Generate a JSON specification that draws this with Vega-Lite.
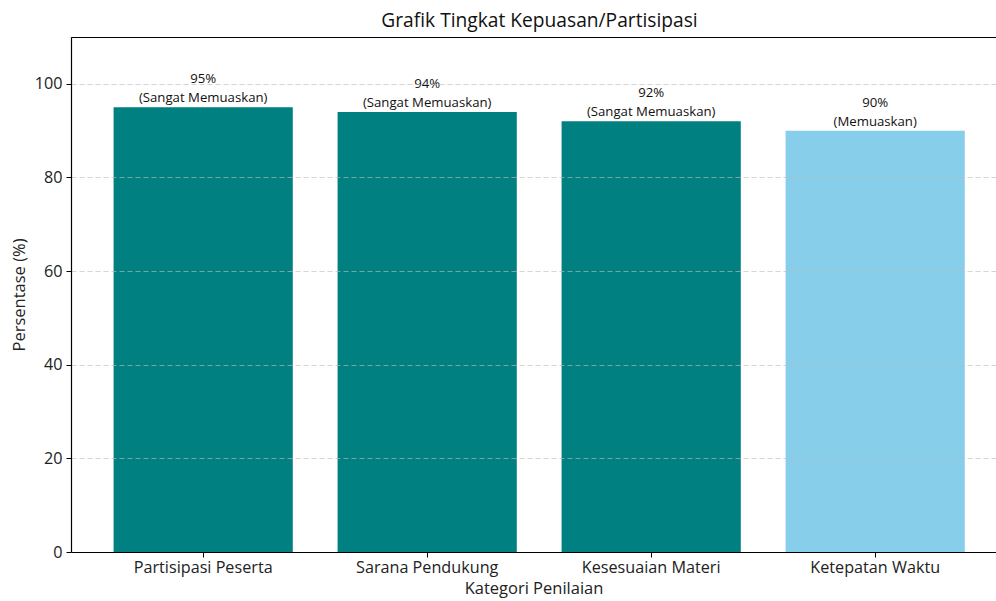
{
  "$schema": "https://vega.github.io/schema/vega-lite/v6.json",
  "width": 925,
  "height": 515,
  "autosize": {"type": "none"},
  "padding": {"left": 71, "top": 37, "right": 0, "bottom": 49},
  "background": "white",
  "title": {"text": "Grafik Tingkat Kepuasan/Partisipasi", "fontSize": 19.2, "font": "Open Sans", "fontWeight": "normal", "color": "#111", "offset": 6, "anchor": "middle", "dx": 6},
  "config": {
    "view": {"stroke": null},
    "font": "Open Sans",
    "axis": {"labelFont": "Open Sans", "titleFont": "Open Sans", "labelFontSize": 16.2, "titleFontSize": 16.5, "titleFontWeight": "normal", "labelColor": "#222", "titleColor": "#222", "domainColor": "#000", "domainWidth": 1.2, "tickColor": "#000", "tickSize": 5, "tickWidth": 1}
  },
  "resolve": {"axis": {"x": "independent"}},
  "data": {"values": [
    {"kategori": "Partisipasi Peserta", "persen": 95, "nilai": "95%", "keterangan": "(Sangat Memuaskan)", "kelas": "Sangat Memuaskan"},
    {"kategori": "Sarana Pendukung", "persen": 94, "nilai": "94%", "keterangan": "(Sangat Memuaskan)", "kelas": "Sangat Memuaskan"},
    {"kategori": "Kesesuaian Materi", "persen": 92, "nilai": "92%", "keterangan": "(Sangat Memuaskan)", "kelas": "Sangat Memuaskan"},
    {"kategori": "Ketepatan Waktu", "persen": 90, "nilai": "90%", "keterangan": "(Memuaskan)", "kelas": "Memuaskan"}
  ]},
  "encoding": {
    "x": {"field": "kategori", "type": "nominal", "sort": null,
      "scale": {"paddingInner": 0.2, "paddingOuter": 0.1647, "align": 0.577}},
    "y": {"field": "persen", "type": "quantitative", "scale": {"domain": [0, 110], "nice": false}}
  },
  "layer": [
    {
      "mark": {"type": "bar"},
      "encoding": {
        "x": {"field": "kategori", "type": "nominal", "sort": null,
          "axis": {"title": "Kategori Penilaian", "labelAngle": 0, "labelPadding": 2, "titlePadding": 5, "zindex": 2}},
        "y": {"field": "persen", "type": "quantitative",
          "axis": {"title": "Persentase (%)", "values": [0, 20, 40, 60, 80, 100], "grid": true, "gridColor": "#bbb", "gridDash": [5, 3], "gridWidth": 0.8, "gridOpacity": 0.8, "zindex": 1, "labelPadding": 4, "titlePadding": 7}},
        "color": {"field": "kelas", "type": "nominal", "legend": null,
          "scale": {"domain": ["Sangat Memuaskan", "Memuaskan"], "range": ["#008080", "#87CEEB"]}}
      }
    },
    {
      "mark": {"type": "text", "baseline": "bottom", "align": "center", "dy": -21, "fontSize": 13.2, "color": "#111", "font": "Open Sans"},
      "encoding": {
        "x": {"field": "kategori", "type": "nominal", "sort": null,
          "axis": {"orient": "top", "labels": false, "ticks": false, "title": null, "grid": false}},
        "text": {"field": "nilai", "type": "nominal"}
      }
    },
    {
      "mark": {"type": "text", "baseline": "bottom", "align": "center", "dy": -2, "fontSize": 13.2, "color": "#111", "font": "Open Sans"},
      "encoding": {
        "x": {"field": "kategori", "type": "nominal", "sort": null,
          "axis": {"orient": "top", "labels": false, "ticks": false, "title": null, "grid": false}},
        "text": {"field": "keterangan", "type": "nominal"}
      }
    }
  ]
}
